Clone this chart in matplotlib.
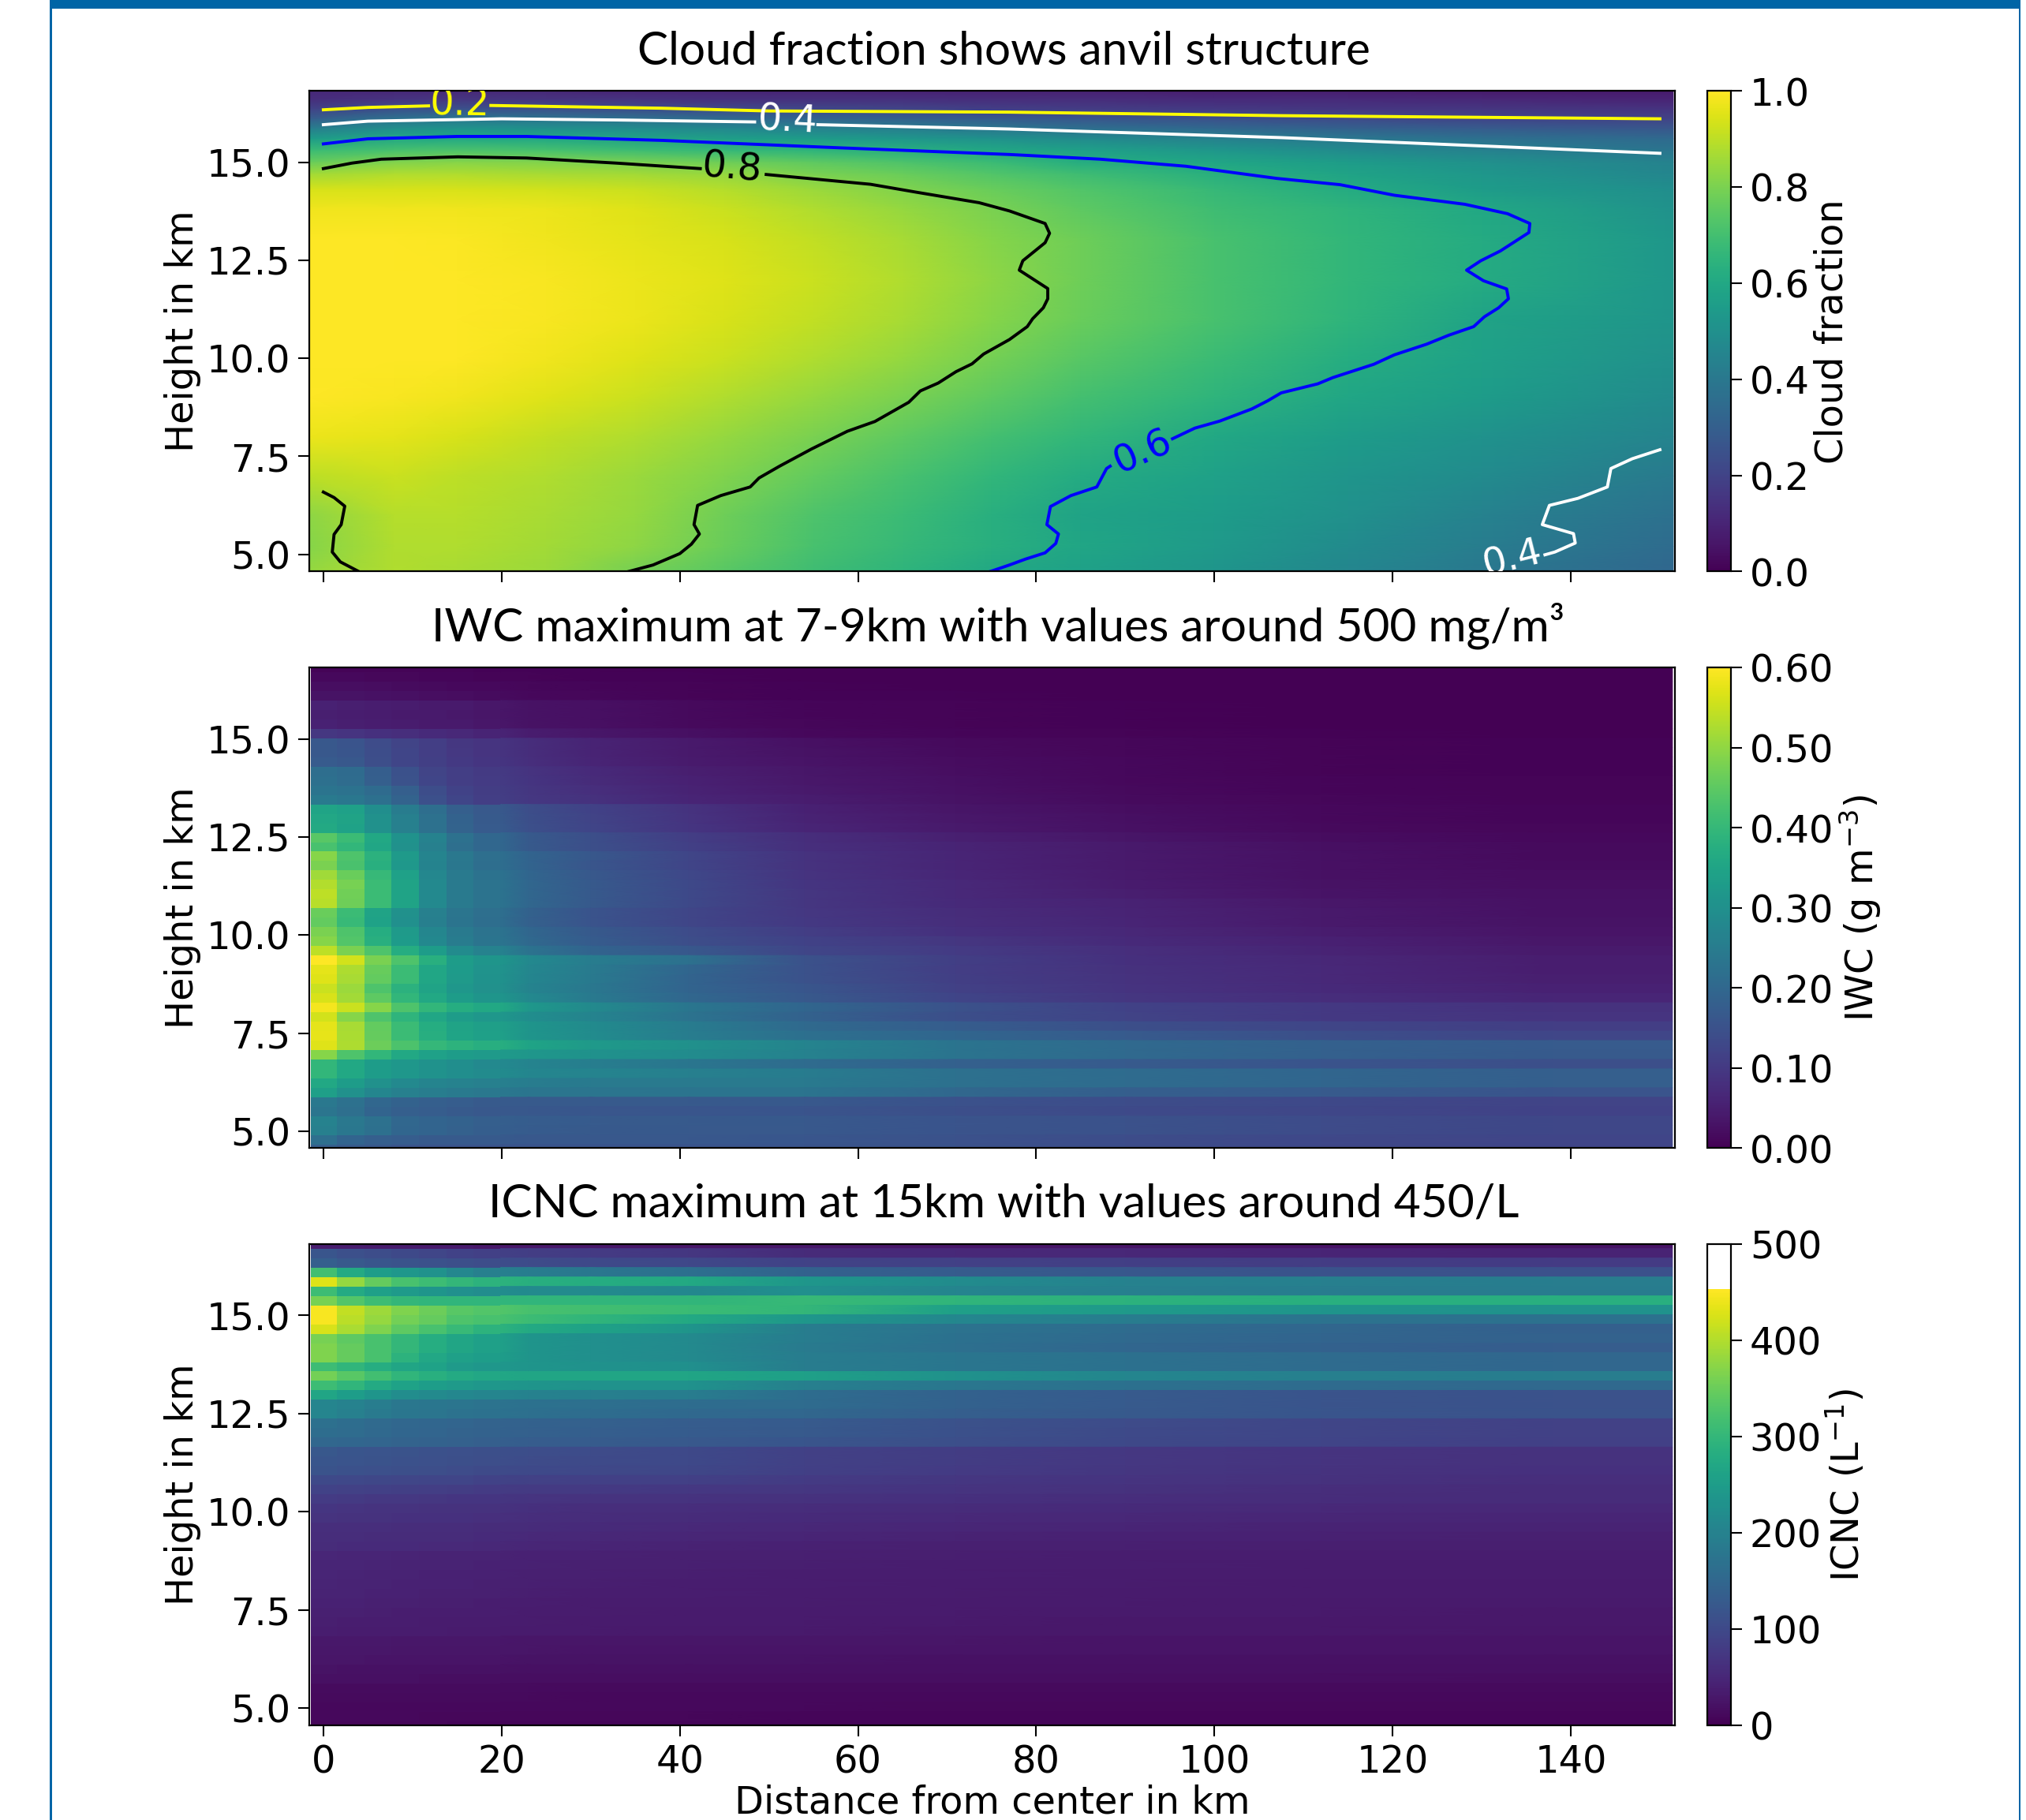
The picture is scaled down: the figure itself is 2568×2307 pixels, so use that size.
import numpy as np
import matplotlib
matplotlib.use("Agg")
import matplotlib.pyplot as plt
from matplotlib.colors import ListedColormap, Normalize
from matplotlib.patches import Rectangle

W, H = 2568, 2307
plt.rcParams["font.family"] = "DejaVu Sans"
plt.rcParams["font.size"] = 34.5
plt.rcParams["mathtext.default"] = "regular"

titles = ["Cloud fraction shows anvil structure",
          "IWC maximum at 7-9km with values around 500 mg/m³",
          "ICNC maximum at 15km with values around 450/L"]
cbar_labels = ["Cloud fraction", "IWC (g m$^{-3}$)", "ICNC (L$^{-1}$)"]
xticks = [0, 20, 40, 60, 80, 100, 120, 140]
yticks = [5.0, 7.5, 10.0, 12.5, 15.0]

# ---- Cloud fraction, read at a few heights and distances
cf_x = [-1.5, 8, 15, 25, 35, 45, 55, 65, 75, 85, 100, 115, 130, 151.5]
cf_y = [16.82, 16.6, 16.35, 16.1, 15.85, 15.6, 15.3, 15.0, 14.7, 14.3, 13.8, 13.0, 12.0, 11.0, 10.0, 9.0, 8.0, 7.0, 6.0, 5.2, 4.565]
cf = [
[.11,.11,.11,.11,.10,.10,.10,.09,.09,.09,.08,.08,.07,.07],
[.13,.15,.16,.15,.15,.14,.14,.14,.13,.13,.12,.12,.11,.10],
[.20,.25,.26,.25,.24,.23,.22,.21,.19,.18,.17,.16,.16,.15],
[.30,.38,.40,.39,.37,.35,.33,.31,.29,.27,.25,.23,.21,.20],
[.43,.50,.52,.51,.49,.47,.45,.43,.40,.37,.34,.31,.29,.27],
[.55,.60,.60,.60,.58,.56,.55,.53,.51,.48,.44,.40,.37,.34],
[.68,.71,.72,.71,.69,.67,.65,.63,.60,.57,.53,.48,.44,.39],
[.77,.81,.82,.81,.80,.78,.75,.72,.68,.62,.59,.55,.50,.44],
[.86,.88,.88,.87,.86,.84,.80,.77,.73,.69,.63,.58,.53,.46],
[.94,.94,.94,.93,.92,.89,.85,.81,.77,.73,.67,.61,.55,.49],
[.98,.98,.98,.97,.95,.92,.88,.84,.80,.75,.69,.65,.60,.51],
[1.0,1.0,.995,.98,.96,.94,.91,.87,.82,.78,.71,.66,.61,.53],
[1.0,1.0,1.0,.99,.97,.95,.92,.88,.83,.78,.71,.66,.61,.53],
[1.0,1.0,1.0,.99,.97,.94,.91,.87,.82,.77,.71,.65,.58,.52],
[1.0,1.0,1.0,.98,.95,.92,.88,.84,.79,.74,.68,.62,.57,.50],
[1.0,.99,.98,.95,.92,.88,.84,.80,.75,.70,.65,.59,.55,.48],
[.97,.96,.94,.91,.88,.84,.80,.75,.70,.66,.60,.55,.51,.45],
[.90,.92,.90,.88,.85,.81,.76,.71,.66,.61,.57,.52,.48,.41],
[.83,.89,.89,.87,.84,.78,.72,.68,.63,.58,.55,.50,.44,.37],
[.82,.88,.88,.86,.83,.77,.71,.67,.63,.59,.54,.48,.42,.35],
[.84,.88,.87,.85,.79,.74,.69,.65,.60,.57,.52,.46,.40,.33],
]

# ---- Near-centre columns are drawn as cells, the outer ones as read at these distances (km)
col_edges = [-1.42, 1.53, 4.6, 7.66, 10.7, 13.8, 16.8, 19.9]
outer_x = [19.9, 23, 30, 41, 54, 71, 90, 112, 138, 151.4]
row_edges = [16.81] + [round(16.705 - 0.2409 * i, 3) for i in range(51)] + [4.564]

# ---- IWC in mg per cubic metre, top row first, at x = 0,3,6,9,12,15,18,23,30,41,54,71,90,112,138
iwc = [
[6,6,6,5,5,5,4,4,3,2,2,1,1,1,1],
[12,12,11,10,9,8,7,6,4,3,2,2,1,1,1],
[22,22,20,18,16,14,12,10,8,5,3,2,2,1,1],
[30,30,27,24,22,20,17,14,10,6,4,3,2,2,1],
[54,51,48,45,42,40,36,30,24,15,9,5,3,2,1],
[50,48,45,42,40,38,34,30,24,15,9,5,3,2,1],
[54,51,48,45,42,40,36,30,24,15,10,6,3,2,2],
[96,90,84,78,72,66,60,48,36,24,14,8,5,3,2],
[162,156,138,120,108,96,90,78,60,40,28,16,10,6,4],
[164,158,140,122,110,98,90,78,60,42,30,18,10,6,4],
[170,162,142,124,112,100,92,80,62,44,32,20,12,6,4],
[214,208,178,148,120,108,102,90,72,50,36,22,13,7,4],
[218,210,180,150,122,110,104,92,74,54,38,24,14,8,5],
[232,226,208,180,140,118,106,96,82,58,42,26,16,9,5],
[244,238,218,188,146,122,110,98,86,62,48,30,18,11,6],
[350,340,295,250,215,180,165,142,118,88,54,34,22,12,8],
[358,348,300,258,222,186,168,144,120,90,58,38,24,14,9],
[362,346,300,258,222,188,170,146,122,92,62,40,26,15,10],
[445,408,360,306,264,222,198,168,144,108,78,52,34,20,12],
[425,396,354,300,258,216,198,168,144,114,82,60,40,24,15],
[490,432,384,324,270,240,216,192,162,126,88,62,42,26,16],
[480,428,378,320,268,238,214,190,160,124,88,62,42,26,18],
[515,462,402,342,278,244,226,196,166,130,90,64,44,28,20],
[530,478,410,348,282,246,228,198,168,132,92,68,46,30,22],
[540,470,410,348,282,246,228,198,168,132,94,70,50,32,24],
[535,468,408,348,282,246,228,198,168,132,96,72,58,38,28],
[462,408,348,300,258,234,216,186,156,126,98,76,60,40,28],
[455,405,345,298,256,232,214,184,156,126,100,78,62,42,30],
[480,432,372,324,276,246,228,198,168,138,108,84,66,48,32],
[490,438,378,328,280,250,232,202,172,142,118,96,72,56,36],
[540,480,432,372,330,288,264,228,192,162,126,104,80,60,42],
[600,558,480,432,378,330,312,282,252,222,150,112,84,66,48],
[575,526,460,410,356,326,308,278,248,195,150,110,86,68,48],
[570,522,456,408,354,324,306,276,246,190,152,112,88,70,50],
[552,510,432,384,348,318,300,270,240,192,160,115,90,72,56],
[564,516,450,396,360,330,312,282,246,198,165,122,96,78,62],
[590,552,492,432,396,372,360,320,285,235,195,150,118,100,85],
[558,492,432,390,354,330,318,294,270,228,186,145,120,100,90],
[576,522,456,408,372,348,336,312,288,250,205,175,145,125,108],
[578,524,458,410,376,350,338,314,290,252,218,195,170,145,125],
[570,525,465,430,400,385,375,350,325,300,270,232,205,185,170],
[492,432,396,360,342,330,324,318,306,290,265,230,205,185,168],
[396,360,330,318,306,294,282,270,255,235,210,185,170,155,145],
[396,360,330,318,306,294,288,276,270,258,250,222,210,195,180],
[360,330,300,282,270,264,258,252,246,246,245,222,210,195,180],
[336,300,276,258,252,246,240,234,234,232,230,200,180,170,155],
[240,222,198,186,180,174,168,168,168,168,165,150,140,132,120],
[234,216,192,180,174,168,162,162,160,158,155,145,135,128,118],
[264,240,222,198,192,186,180,174,170,168,165,155,150,138,128],
[260,238,220,196,190,184,178,172,168,166,165,155,150,138,128],
[216,192,180,174,168,168,168,162,162,162,160,150,140,130,122],
[180,168,162,156,156,156,156,156,156,156,156,150,140,130,122],
]

# ---- ICNC per litre, top row first, same distances
icnc = [
[36,36,34,34,32,32,30,30,30,28,30,28,26,24,22],
[120,110,105,100,95,90,85,82,78,72,55,52,50,46,44],
[135,125,120,115,112,108,105,104,100,98,90,88,84,80,78],
[315,275,250,240,230,210,195,190,180,165,140,130,122,115,112],
[430,380,345,320,310,300,290,285,280,272,240,218,200,195,190],
[310,275,255,245,235,225,220,215,215,210,225,205,195,190,188],
[360,330,310,300,295,295,295,295,295,295,305,295,290,285,285],
[448,410,385,365,350,335,330,320,315,308,300,255,245,235,228],
[448,405,380,355,345,325,320,310,295,272,240,210,190,172,168],
[425,395,365,340,320,305,290,275,260,235,190,172,158,150,136],
[360,340,320,300,280,265,255,235,225,215,190,168,155,146,140],
[365,345,320,300,280,265,255,235,225,215,186,165,150,140,132],
[365,345,320,290,270,255,250,235,225,215,190,178,168,158,150],
[310,295,280,265,260,245,240,235,230,225,190,178,168,158,150],
[355,335,315,295,285,275,270,265,265,265,255,228,208,195,190],
[310,295,275,260,250,245,240,235,230,228,195,180,168,158,152],
[265,250,235,220,215,210,205,200,195,190,160,140,128,118,113],
[205,198,190,180,178,175,172,168,165,160,158,140,128,118,113],
[205,195,185,178,175,170,168,165,160,152,150,135,126,120,116],
[165,160,155,150,148,145,142,140,138,132,128,114,104,95,88],
[160,158,152,148,145,142,140,138,135,130,126,112,102,94,88],
[150,148,145,142,140,138,135,132,130,125,120,108,100,92,86],
[122,120,118,115,112,110,108,106,104,100,88,80,74,68,64],
[120,118,115,112,110,108,106,104,102,100,88,80,74,68,64],
[115,112,110,108,106,104,102,100,98,96,86,78,72,66,62],
[100,98,97,95,93,92,90,88,86,85,78,72,68,64,60],
[90,88,86,84,82,80,78,77,76,74,72,68,64,60,56],
[78,76,74,73,72,70,70,68,67,66,64,62,60,58,55],
[70,68,67,66,65,65,64,62,60,60,58,56,54,52,50],
[66,65,64,63,62,62,61,60,58,56,54,52,50,48,46],
[60,60,59,58,58,57,56,55,54,52,50,48,46,44,43],
[58,57,56,56,55,55,54,52,50,48,46,44,42,41,40],
[55,54,53,53,52,52,50,48,46,44,42,40,40,38,38],
[48,47,46,45,44,44,43,42,41,40,39,38,37,36,36],
[47,46,45,44,43,43,42,41,40,39,38,37,36,35,35],
[46,45,44,43,42,42,41,40,39,38,37,36,35,34,34],
[45,44,43,42,41,41,40,39,38,37,36,35,34,33,33],
[44,43,42,41,40,40,39,38,37,36,35,34,33,32,32],
[42,41,40,39,38,38,37,36,35,34,34,33,32,31,31],
[40,39,38,37,37,36,36,35,34,33,33,32,31,31,30],
[38,37,36,36,35,35,34,34,33,32,32,31,30,30,29],
[36,35,35,34,34,33,33,32,32,31,31,30,29,29,28],
[30,29,29,28,28,27,27,26,26,25,25,25,24,24,24],
[28,27,27,26,26,26,25,25,24,24,24,23,23,23,23],
[25,25,24,24,24,23,23,22,22,22,22,21,21,21,21],
[22,21,21,20,20,20,20,19,19,19,19,19,18,18,18],
[19,18,18,18,17,17,17,16,16,16,16,16,16,16,15],
[14,14,14,13,13,13,13,13,12,12,12,12,12,12,12],
[12,12,12,11,11,11,11,11,10,10,10,10,10,10,10],
[10,10,10,10,9,9,9,9,9,9,9,8,8,8,8],
[9,9,9,9,8,8,8,8,8,8,7,7,7,7,7],
[8,8,8,8,8,7,7,7,7,7,7,6,6,6,6],
]
icnc_colour_top = 453

# ---- Contours of the cloud fraction (nan = label gap)
nan = float("nan")
c02_x = [0, 5, 11.8, nan, 18.8, 38, 50, 77, 107.5, 150]
c02_y = [16.34, 16.40, 16.44, nan, 16.45, 16.38, 16.31, 16.28, 16.19, 16.11]
c04_x = [0, 5, 20, 33, 48.4, nan, 55.5, 77, 107.5, 150]
c04_y = [15.96, 16.05, 16.11, 16.08, 16.03, nan, 15.96, 15.85, 15.63, 15.23]
c04b_x = [150, 146.9, 144.5, 144.1, 140.8, 137.6, 136.8, 140.3, 140.5, 138.2, 137.1]
c04b_y = [7.67, 7.44, 7.19, 6.72, 6.43, 6.25, 5.76, 5.53, 5.29, 5.06, 4.99]
c06_x = [0, 5, 15, 22.8, 38, 58, 77, 87.2, 96.8, 107, 114.1, 120.2, 128.1, 132.9, 135.4, 135.3, 132.1, 129.9, 128.3, 130.2, 132.8, 133, 131.9, 130.3, 129.1, 126.3, 123.8, 120.2, 117.9, 113.3, 111.6, 107.5, 106, 104.2, 100.6, 97.8, 95.3, nan, 88.3, 87.9, 86.8, 83.9, 81.6, 81.2, 82.5, 82.2, 81, 78.8, 77, 74.8]
c06_y = [15.47, 15.60, 15.66, 15.66, 15.56, 15.37, 15.20, 15.08, 14.90, 14.59, 14.43, 14.16, 13.93, 13.69, 13.44, 13.21, 12.74, 12.49, 12.25, 11.98, 11.77, 11.52, 11.29, 11.06, 10.81, 10.59, 10.36, 10.09, 9.85, 9.51, 9.35, 9.12, 8.92, 8.71, 8.40, 8.22, 7.95, nan, 7.25, 7.19, 6.72, 6.50, 6.22, 5.76, 5.52, 5.28, 5.04, 4.88, 4.73, 4.56]
c08_x = [0, 3.2, 6.5, 15.1, 22.8, 32.9, 42.3, nan, 49.7, 61.4, 66.5, 73.6, 77, 78.5, 81, 81.5, 81, 78.5, 78.1, 81.3, 81.3, 80.8, 79.6, 79, 77, 74.1, 72.8, 71, 69, 67, 65.7, 61.9, 58.8, 54.8, 51.2, 48.9, 47.9, 44.6, 42, 41.6, 42.2, 41.3, 40, 37, 34.2]
c08_y = [14.84, 14.98, 15.08, 15.14, 15.11, 14.98, 14.84, nan, 14.69, 14.44, 14.24, 13.97, 13.76, 13.64, 13.44, 13.19, 12.95, 12.49, 12.25, 11.78, 11.52, 11.29, 11.01, 10.81, 10.48, 10.11, 9.86, 9.66, 9.37, 9.17, 8.88, 8.39, 8.14, 7.69, 7.25, 6.95, 6.72, 6.50, 6.25, 5.76, 5.52, 5.26, 5.02, 4.73, 4.56]
c08b_x = [0, 1.2, 2.4, 2, 1.2, 1, 1.9, 4]
c08b_y = [6.59, 6.45, 6.23, 5.76, 5.51, 5.06, 4.81, 4.56]
contour_labels = [("0.2", 15.3, 16.47, "yellow", -1),
                  ("0.4", 52.1, 16.07, "white", -3),
                  ("0.8", 45.9, 14.85, "black", -5),
                  ("0.6", 92.0, 7.62, "blue", 24),
                  ("0.4", 133.5, 4.90, "white", 14)]

fig = plt.figure(figsize=((W + 0.2) / 100, (H + 0.2) / 100), dpi=100, facecolor="white")


def rect(left, top, right, bottom):
    return [left / W, 1 - bottom / H, (right - left) / W, (bottom - top) / H]


def banded(ax, table, **style):
    """Cells near the centre, then each row as a crisp band shaded along x."""
    z = np.array(table, dtype=float)
    m = ax.pcolormesh(col_edges, row_edges, z[:, :7], shading="flat", **style)
    y = np.repeat(row_edges, 2)[1:-1]
    outer = np.column_stack([z[:, 6], z[:, 7:], z[:, 14]])
    ax.pcolormesh(outer_x, y, np.repeat(outer, 2, axis=0), shading="gouraud", **style)
    return m


# slide frame
blue = "#0065A6"
for l, t, r, b in [(63, 0, 2561, 11), (63, 8, 65.5, H), (2558.5, 8, 2561, H)]:
    fig.add_artist(Rectangle((l / W, 1 - b / H), (r - l) / W, (b - t) / H,
                             transform=fig.transFigure, color=blue, lw=0))

tops = [115.5, 846.4, 1577.0]
bottoms = [724.5, 1455.5, 2186.7]
title_x = [1272, 1265, 1272]
title_y = [65, 793, 1526]

vir = plt.get_cmap("viridis")
cmap3 = ListedColormap(list(vir(np.linspace(0, 1, icnc_colour_top))) + [(1, 1, 1, 1)] * (500 - icnc_colour_top))

axes = []
for i in range(3):
    ax = fig.add_axes(rect(392, tops[i], 2123, bottoms[i]))
    axes.append(ax)
    if i == 0:
        m = ax.pcolormesh(cf_x, cf_y, np.array(cf), shading="gouraud", cmap="viridis", vmin=0, vmax=1)
    elif i == 1:
        m = banded(ax, np.array(iwc) / 1000.0, cmap="viridis", vmin=0, vmax=0.6)
    else:
        m = banded(ax, icnc, cmap=cmap3, norm=Normalize(0, 500))
    ax.set_xlim(-1.58, 151.7)
    ax.set_ylim(4.565, 16.82)
    ax.set_xticks(xticks)
    ax.set_yticks(yticks)
    ax.set_yticklabels([f"{v:.1f}" for v in yticks])
    if i < 2:
        ax.set_xticklabels([])
    else:
        ax.set_xlabel("Distance from center in km", labelpad=3)
    ax.tick_params(length=10, width=1.5, pad=7)
    for s in ax.spines.values():
        s.set_linewidth(1.6)
    ax.set_ylabel("Height in km")
    ax.yaxis.set_label_coords((231 - 392) / (2123 - 392), 0.5)
    ax.yaxis.label.set_verticalalignment("center")
    fig.text(title_x[i] / W, 1 - title_y[i] / H, titles[i], family="Lato", fontsize=42.2,
             ha="center", va="center")

    cax = fig.add_axes(rect(2164, tops[i], 2194, bottoms[i]))
    cb = fig.colorbar(m, cax=cax)
    cb.outline.set_linewidth(1.6)
    cax.tick_params(length=10, width=1.5, pad=7)
    if i == 0:
        cb.set_ticks([0, .2, .4, .6, .8, 1.0], labels=["0.0", "0.2", "0.4", "0.6", "0.8", "1.0"])
    elif i == 1:
        t = [0, .1, .2, .3, .4, .5, .6]
        cb.set_ticks(t, labels=[f"{v:.2f}" for v in t])
    else:
        cb.set_ticks([0, 100, 200, 300, 400, 500])
    cb.set_label(cbar_labels[i])
    label_x = [2322, 2358, 2339][i]
    cax.yaxis.set_label_coords((label_x - 2164) / 30, 0.5)
    cax.yaxis.label.set_verticalalignment("center")

ax = axes[0]
for xs, ys, col in [(c02_x, c02_y, "yellow"), (c04_x, c04_y, "white"), (c04b_x, c04b_y, "white"),
                    (c06_x, c06_y, "blue"), (c08_x, c08_y, "black"), (c08b_x, c08b_y, "black")]:
    ax.plot(xs, ys, color=col, lw=2.8)
for txt, x, y, col, rot in contour_labels:
    ax.text(x, y, txt, color=col, rotation=rot, ha="center", va="center", clip_on=True, rotation_mode="anchor")

fig.savefig("out.png", dpi=100)
